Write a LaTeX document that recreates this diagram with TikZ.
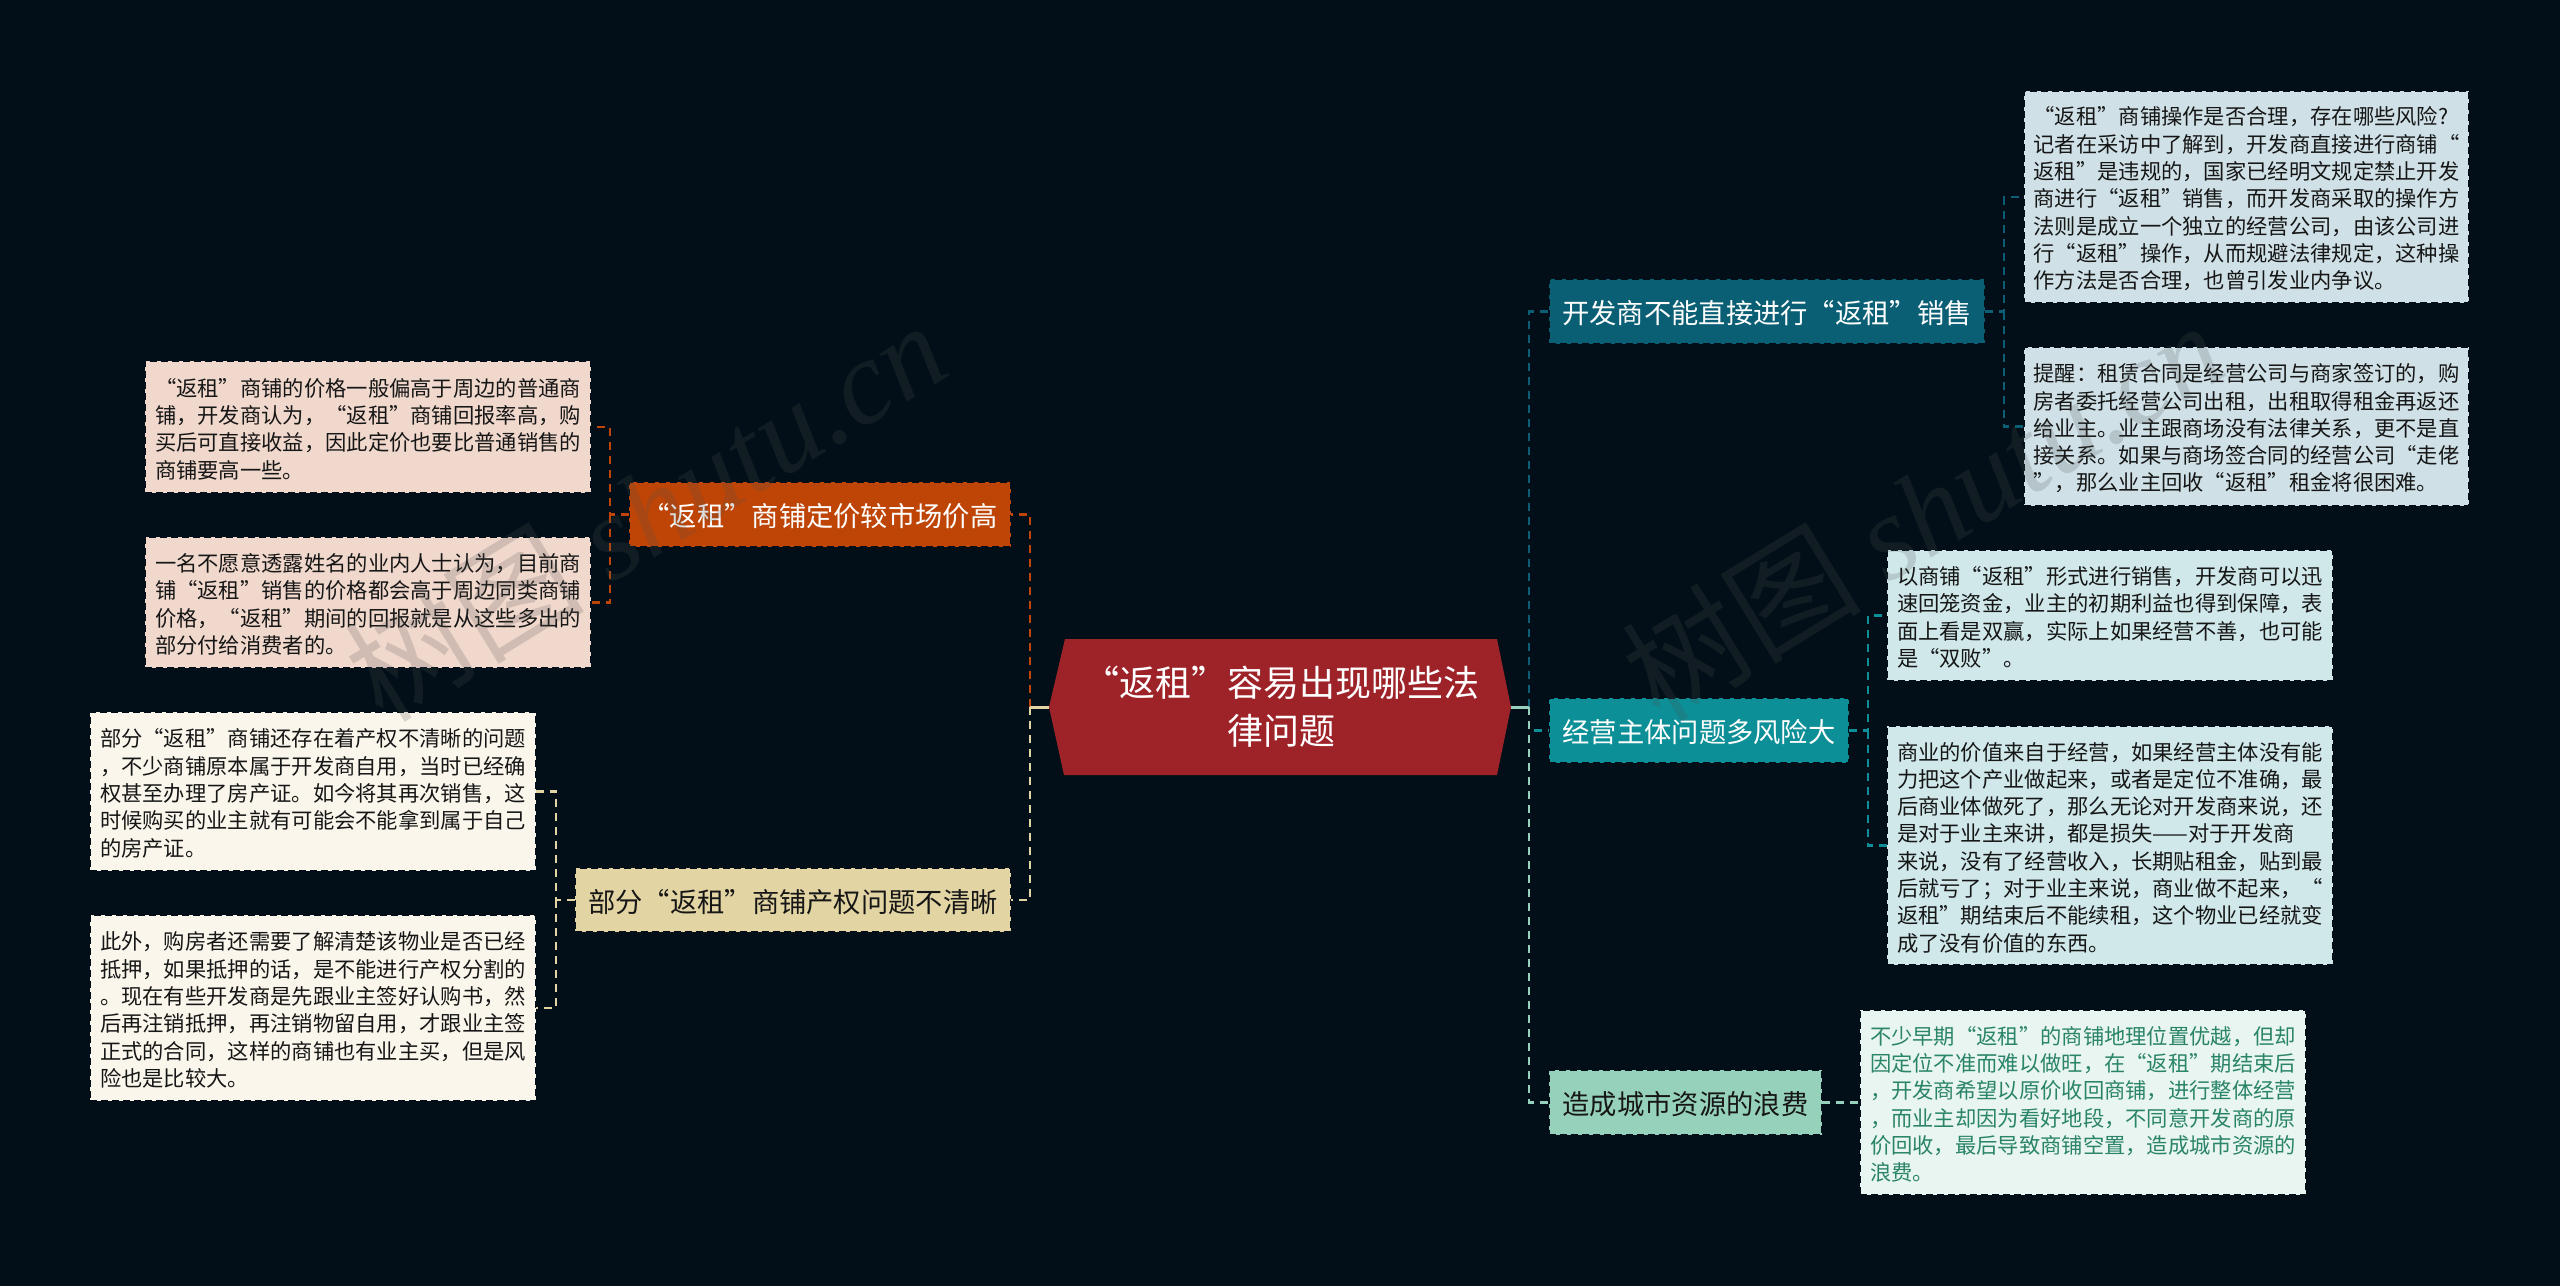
\documentclass[tikz,border=0pt]{standalone}
\usepackage{fontspec}
\setmainfont{Noto Sans CJK SC}
\newfontfamily\wmlatin{Liberation Serif}
\definecolor{bgc}{HTML}{020F18}
\definecolor{rootc}{HTML}{9D2329}
\definecolor{ca}{HTML}{0A5F74}
\definecolor{cb}{HTML}{0C8F96}
\definecolor{cc}{HTML}{96D2BB}
\definecolor{cd}{HTML}{BF4506}
\definecolor{ce}{HTML}{E3D5A3}
\definecolor{pa}{HTML}{CFE1E7}
\definecolor{pb}{HTML}{D0E8EA}
\definecolor{pc}{HTML}{E9F5F1}
\definecolor{pd}{HTML}{F0D8CC}
\definecolor{pe}{HTML}{FAF6EC}
\definecolor{txt}{HTML}{161616}
\definecolor{gtxt}{HTML}{2A8468}
\definecolor{wmc}{HTML}{505050}
\tikzset{
  boxedge/.style={draw=bgc,line width=1.3pt,dash pattern=on 7pt off 4pt,anchor=north west,inner sep=0pt,outer sep=0pt},
  branchbox/.style={boxedge,font=\fontsize{27.3}{34}\selectfont,align=center},
  leaf/.style={boxedge,font=\fontsize{21.3}{27.3}\selectfont,align=left,text=txt},
  link/.style={line width=2.2pt,dash pattern=on 8pt off 6pt},
  solidlink/.style={line width=3pt},
  wm/.style={text=wmc,opacity=0.2,rotate=31.6,font=\fontsize{120}{120}\selectfont}
}
\newcommand{\boxat}[7]{% name, style, fill, x1, y1, x2, y2; text follows
  \node[#2,fill=#3,minimum width={(#6-#4)*1pt},minimum height={(#7-#5)*1pt}] (#1) at (#4,#5)}
\newcommand{\bstrut}{\rule{0pt}{26.5pt}}
\newcommand{\lstrut}{\rule{0pt}{22pt}}
\begin{document}
\begin{tikzpicture}[x=1pt,y=-1pt]
\useasboundingbox (0,0) rectangle (2560,1286);
\fill[bgc] (0,0) rectangle (2560,1286);

\coordinate (rl) at (1049,707);
\coordinate (rr) at (1511,707);
\coordinate (jl) at (1030,707);
\coordinate (jr) at (1529,707);

% root
\fill[rootc] (rl) -- (1065,639) -- (1497,639) -- (rr) -- (1497,775) -- (1064,775) -- cycle;
\node[inner sep=0pt,outer sep=0pt,text=white,align=center,font=\fontsize{36}{48}\selectfont] (root) at (1281,707)
  {“返租”容易出现哪些法\\律问题};

% branches
\boxat{ba}{branchbox,text=white}{ca}{1549}{279}{1985}{344}{\bstrut 开发商不能直接进行“返租”销售};
\boxat{bb}{branchbox,text=white}{cb}{1549}{698}{1849}{763}{\bstrut 经营主体问题多风险大};
\boxat{bc}{branchbox,text=txt}{cc}{1549}{1070}{1822}{1135}{\bstrut 造成城市资源的浪费};
\boxat{bd}{branchbox,text=white}{cd}{629}{482}{1011}{547}{\bstrut “返租”商铺定价较市场价高};
\boxat{be}{branchbox,text=txt}{ce}{575}{868}{1011}{932}{\bstrut 部分“返租”商铺产权问题不清晰};

% leaves
\boxat{a1}{leaf}{pa}{2024}{91}{2469}{303}{\lstrut “返租”商铺操作是否合理，存在哪些风险?\\记者在采访中了解到，开发商直接进行商铺“\\返租”是违规的，国家已经明文规定禁止开发\\商进行“返租”销售，而开发商采取的操作方\\法则是成立一个独立的经营公司，由该公司进\\行“返租”操作，从而规避法律规定，这种操\\作方法是否合理，也曾引发业内争议。};
\boxat{a2}{leaf}{pa}{2024}{347}{2469}{506}{\lstrut 提醒：租赁合同是经营公司与商家签订的，购\\房者委托经营公司出租，出租取得租金再返还\\给业主。业主跟商场没有法律关系，更不是直\\接关系。如果与商场签合同的经营公司“走佬\\”，那么业主回收“返租”租金将很困难。};
\boxat{b1}{leaf}{pb}{1887}{550}{2333}{681}{\lstrut 以商铺“返租”形式进行销售，开发商可以迅\\速回笼资金，业主的初期利益也得到保障，表\\面上看是双赢，实际上如果经营不善，也可能\\是“双败”。};
\boxat{b2}{leaf}{pb}{1887}{726}{2333}{965}{\lstrut 商业的价值来自于经营，如果经营主体没有能\\力把这个产业做起来，或者是定位不准确，最\\后商业体做死了，那么无论对开发商来说，还\\是对于业主来讲，都是损失——对于开发商\\来说，没有了经营收入，长期贴租金，贴到最\\后就亏了；对于业主来说，商业做不起来，“\\返租”期结束后不能续租，这个物业已经就变\\成了没有价值的东西。};
\boxat{c1}{leaf,text=gtxt}{pc}{1860}{1010}{2306}{1195}{\lstrut 不少早期“返租”的商铺地理位置优越，但却\\因定位不准而难以做旺，在“返租”期结束后\\，开发商希望以原价收回商铺，进行整体经营\\，而业主却因为看好地段，不同意开发商的原\\价回收，最后导致商铺空置，造成城市资源的\\浪费。};
\boxat{d1}{leaf}{pd}{145}{361}{591}{493}{\lstrut “返租”商铺的价格一般偏高于周边的普通商\\铺，开发商认为，“返租”商铺回报率高，购\\买后可直接收益，因此定价也要比普通销售的\\商铺要高一些。};
\boxat{d2}{leaf}{pd}{145}{537}{591}{668}{\lstrut 一名不愿意透露姓名的业内人士认为，目前商\\铺“返租”销售的价格都会高于周边同类商铺\\价格，“返租”期间的回报就是从这些多出的\\部分付给消费者的。};
\boxat{e1}{leaf}{pe}{90}{712}{536}{871}{\lstrut 部分“返租”商铺还存在着产权不清晰的问题\\，不少商铺原本属于开发商自用，当时已经确\\权甚至办理了房产证。如今将其再次销售，这\\时候购买的业主就有可能会不能拿到属于自己\\的房产证。};
\boxat{e2}{leaf}{pe}{90}{915}{536}{1101}{\lstrut 此外，购房者还需要了解清楚该物业是否已经\\抵押，如果抵押的话，是不能进行产权分割的\\。现在有些开发商是先跟业主签好认购书，然\\后再注销抵押，再注销物留自用，才跟业主签\\正式的合同，这样的商铺也有业主买，但是风\\险也是比较大。};

% trunk connectors
\draw[link,ca] (jr) |- (ba.west);
\draw[link,cb] (jr) |- (bb.west);
\draw[link,cc] (jr) |- (bc.west);
\draw[link,cd] (jl) |- (bd.east);
\draw[link,ce] (jl) |- (be.east);
\draw[solidlink,cc] (rr) -- (jr);
\draw[solidlink,ce] (rl) -- (jl);

% leaf connectors
\draw[link,ca] (ba.east) -- ++(19,0) coordinate (ja) |- (a1.west);
\draw[link,ca] (ja) |- (a2.west);
\draw[link,cb] (bb.east) -- ++(19,0) coordinate (jb) |- (b1.west);
\draw[link,cb] (jb) |- (b2.west);
\draw[link,cc] (bc.east) -- (bc.east -| c1.west);
\draw[link,cd] (bd.west) -- ++(-19,0) coordinate (jd) |- (d1.east);
\draw[link,cd] (jd) |- (d2.east);
\draw[link,ce] (be.west) -- ++(-19,0) coordinate (je) |- (e1.east);
\draw[link,ce] (je) |- (e2.east);

% watermark
\node[wm] (wma) at (645,510) {树图 {\wmlatin\itshape shutu.cn}};
\node[wm] (wmb) at (1922,510) {树图 {\wmlatin\itshape shutu.cn}};
\end{tikzpicture}
\end{document}
